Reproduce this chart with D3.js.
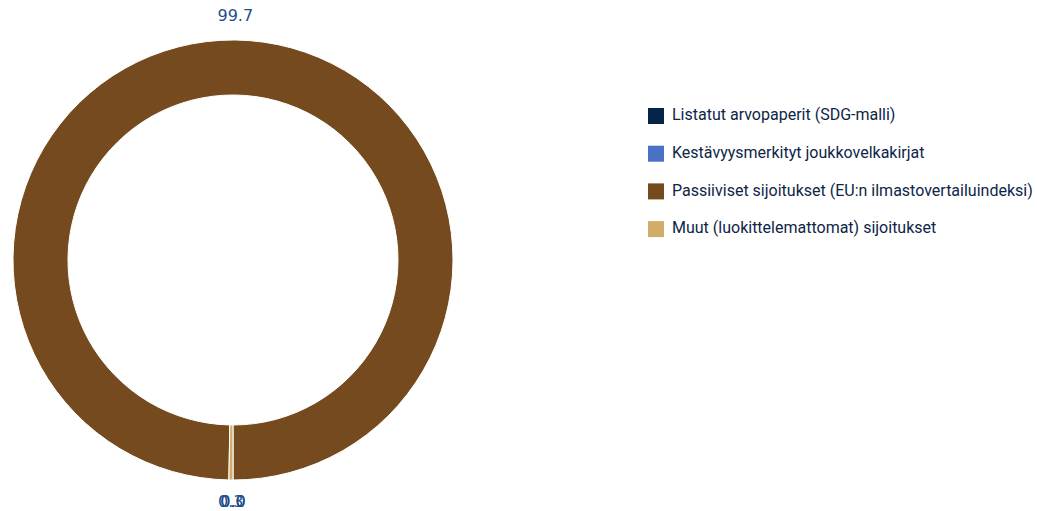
<!DOCTYPE html>
<html><head><meta charset="utf-8">
<script src="https://cdn.jsdelivr.net/npm/d3@7"></script>
<style>body{margin:0;background:#fff;}svg{display:block;}</style>
</head><body>
<svg id="c" width="1037" height="511"></svg>
<script>
const categories = ["Listatut arvopaperit (SDG-malli)","Kestävyysmerkityt joukkovelkakirjat","Passiiviset sijoitukset (EU:n ilmastovertailuindeksi)","Muut (luokittelemattomat) sijoitukset"];
const values = [0.0, 0.0, 99.7, 0.3];
const labels = ["0.0", "0.0", "99.7", "0.3"];
const colors = ["#06234a", "#4a72c4", "#744a1e", "#d2ad6a"];

const svg = d3.select("#c");
const cx = 233, cy = 260, R = 220, r = 165;
const pie = d3.pie().sort(null).value(d => d).startAngle(Math.PI).endAngle(-Math.PI);
const arcs = pie(values);
const arc = d3.arc().innerRadius(r).outerRadius(R);
const labelArc = d3.arc().innerRadius(243).outerRadius(243);
const g = svg.append("g").attr("transform", `translate(${cx},${cy})`);
g.selectAll("path").data(arcs).join("path")
  .attr("d", arc).attr("fill", (d,i) => colors[i])
  .attr("stroke", "#fff").attr("stroke-width", 1);
g.selectAll("text").data(arcs).join("text")
  .attr("transform", d => `translate(${labelArc.centroid(d)})`)
  .attr("text-anchor", "middle").attr("dy", "0.26em")
  .attr("font-family", "DejaVu Sans").attr("font-size", 16)
  .attr("fill", "#1f4e8c")
  .text((d,i) => labels[i]);

const lg = svg.append("g").attr("transform", "translate(648,108)");
const rows = lg.selectAll("g").data(categories).join("g")
  .attr("transform", (d,i) => `translate(0,${i*37.7})`);
rows.append("rect").attr("width", 16).attr("height", 16).attr("fill", (d,i) => colors[i]);
rows.append("text").attr("x", 24).attr("y", 11).attr("dy", "0.08em")
  .attr("font-family", "Roboto").attr("font-size", 16).attr("fill", "#0e2547")
  .text(d => d);
</script>
</body></html>
